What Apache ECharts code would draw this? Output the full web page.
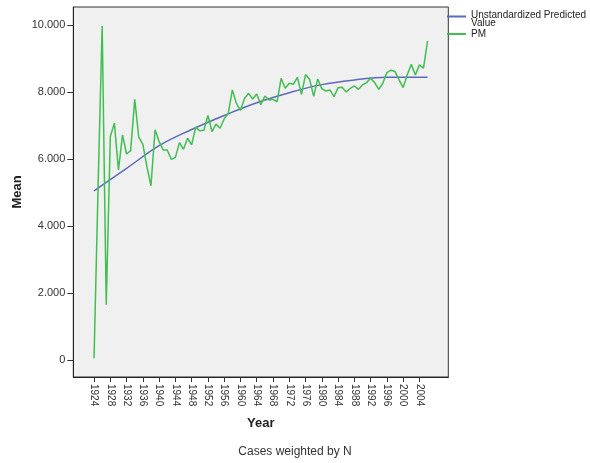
<!DOCTYPE html>
<html>
<head>
<meta charset="utf-8">
<script src="https://cdn.jsdelivr.net/npm/echarts@6/dist/echarts.min.js"></script>
<style>
html,body{margin:0;padding:0;background:#fff;}
#chart{width:590px;height:463px;}
</style>
</head>
<body>
<div id="chart"></div>
<script>
// Years (x) and PM means (green series)
const years = [1924,1925,1926,1927,1928,1929,1930,1931,1932,1933,1934,1935,1936,1937,1938,1939,
  1940,1941,1942,1943,1944,1945,1946,1947,1948,1949,1950,1951,1952,1953,1954,1955,1956,1957,1958,1959,
  1960,1961,1962,1963,1964,1965,1966,1967,1968,1969,1970,1971,1972,1973,1974,1975,1976,1977,1978,1979,
  1980,1981,1982,1983,1984,1985,1986,1987,1988,1989,1990,1991,1992,1993,1994,1995,1996,1997,1998,1999,
  2000,2001,2002,2003,2004,2005,2006];
const pmValues = [0.05,5.2,9.97,1.65,6.67,7.07,5.67,6.72,6.15,6.25,7.78,6.65,6.44,5.77,5.2,6.87,
  6.52,6.27,6.27,5.99,6.05,6.49,6.29,6.62,6.42,6.95,6.84,6.86,7.3,6.82,7.04,6.92,7.2,7.36,8.06,7.66,
  7.45,7.81,7.96,7.79,7.94,7.62,7.88,7.76,7.78,7.71,8.41,8.11,8.26,8.23,8.44,7.93,8.52,8.38,7.87,8.39,
  8.1,8.03,8.06,7.86,8.13,8.14,8.0,8.11,8.18,8.08,8.21,8.28,8.41,8.28,8.08,8.26,8.58,8.65,8.61,8.36,
  8.13,8.51,8.83,8.51,8.81,8.71,9.52];
// Unstandardized predicted value (blue curve), read at sample years
const predYears = [1924,1932,1940,1948,1956,1964,1972,1980,1988,1996,2006];
const predValues = [5.05,5.72,6.40,6.88,7.30,7.68,7.98,8.22,8.36,8.44,8.44];
// Tick labels
const xTicks = [1924,1928,1932,1936,1940,1944,1948,1952,1956,1960,1964,1968,1972,1976,1980,1984,1988,1992,1996,2000,2004];
const yTicks = [0,2,4,6,8,10];

const FONT = '"Liberation Sans", Arial, sans-serif';
const chart = echarts.init(document.getElementById('chart'), null, {renderer: 'canvas'});
const pmData = years.map((y, i) => [y, pmValues[i]]);
const predData = predYears.map((y, i) => [y, predValues[i]]);

chart.setOption({
  animation: false,
  backgroundColor: '#ffffff',
  title: {
    text: 'Cases weighted by N',
    left: 'center',
    top: 441,
    textStyle: {fontFamily: FONT, fontSize: 12, fontWeight: 'normal', color: '#333'}
  },
  legend: {
    orient: 'vertical',
    left: 447,
    top: 10.5,
    padding: 0,
    itemWidth: 19,
    itemHeight: 2,
    itemGap: 0.5,
    icon: 'rect',
    textStyle: {
      fontFamily: FONT, fontSize: 10, color: '#222',
      rich: {
        a: {fontFamily: FONT, fontSize: 10, color: '#222', lineHeight: 14},
        b: {fontFamily: FONT, fontSize: 10, color: '#222', lineHeight: 2}
      }
    },
    formatter: function (name) {
      return name === 'Unstandardized Predicted Value' ? '{a|Unstandardized Predicted}\n{b|Value}' : name;
    },
    data: ['Unstandardized Predicted Value', 'PM']
  },
  grid: {
    left: 73.3, right: 141.7, top: 7, bottom: 86,
    show: true, backgroundColor: '#f0f0f0', borderColor: '#333', borderWidth: 1
  },
  xAxis: {
    type: 'value',
    min: 1918.9,
    max: 2011.1,
    name: 'Year',
    nameLocation: 'middle',
    nameGap: 40,
    nameTextStyle: {fontFamily: FONT, fontSize: 13, fontWeight: 'bold', color: '#222'},
    splitLine: {show: false},
    axisLine: {show: true, onZero: false, lineStyle: {color: '#222', width: 1}},
    axisTick: {show: true, length: 5, customValues: xTicks, lineStyle: {color: '#333'}},
    axisLabel: {
      customValues: xTicks,
      rotate: -90,
      margin: 7,
      fontFamily: FONT, fontSize: 10, color: '#333',
      formatter: v => String(v)
    }
  },
  yAxis: {
    type: 'value',
    min: -0.507,
    max: 10.537,
    name: 'Mean',
    nameLocation: 'middle',
    nameGap: 49,
    nameMoveOverlap: false,
    nameTextStyle: {fontFamily: FONT, fontSize: 13, fontWeight: 'bold', color: '#222'},
    splitLine: {show: false},
    axisLine: {show: true, onZero: false, lineStyle: {color: '#222', width: 1}},
    axisTick: {show: true, length: 6, customValues: yTicks, lineStyle: {color: '#333'}},
    axisLabel: {
      customValues: yTicks,
      margin: 8,
      fontFamily: FONT, fontSize: 11, color: '#333',
      formatter: v => (v === 0 ? '0' : v.toFixed(3))
    }
  },
  series: [
    {
      name: 'Unstandardized Predicted Value',
      type: 'line',
      data: predData,
      smooth: 0.4,
      showSymbol: false,
      symbol: 'none',
      color: '#5a6bbd',
      lineStyle: {width: 1.5, color: '#5a6bbd'}
    },
    {
      name: 'PM',
      type: 'line',
      data: pmData,
      showSymbol: false,
      symbol: 'none',
      color: '#3fbf4f',
      lineStyle: {width: 1.5, color: '#3fbf4f'}
    }
  ]
});
</script>
</body>
</html>
